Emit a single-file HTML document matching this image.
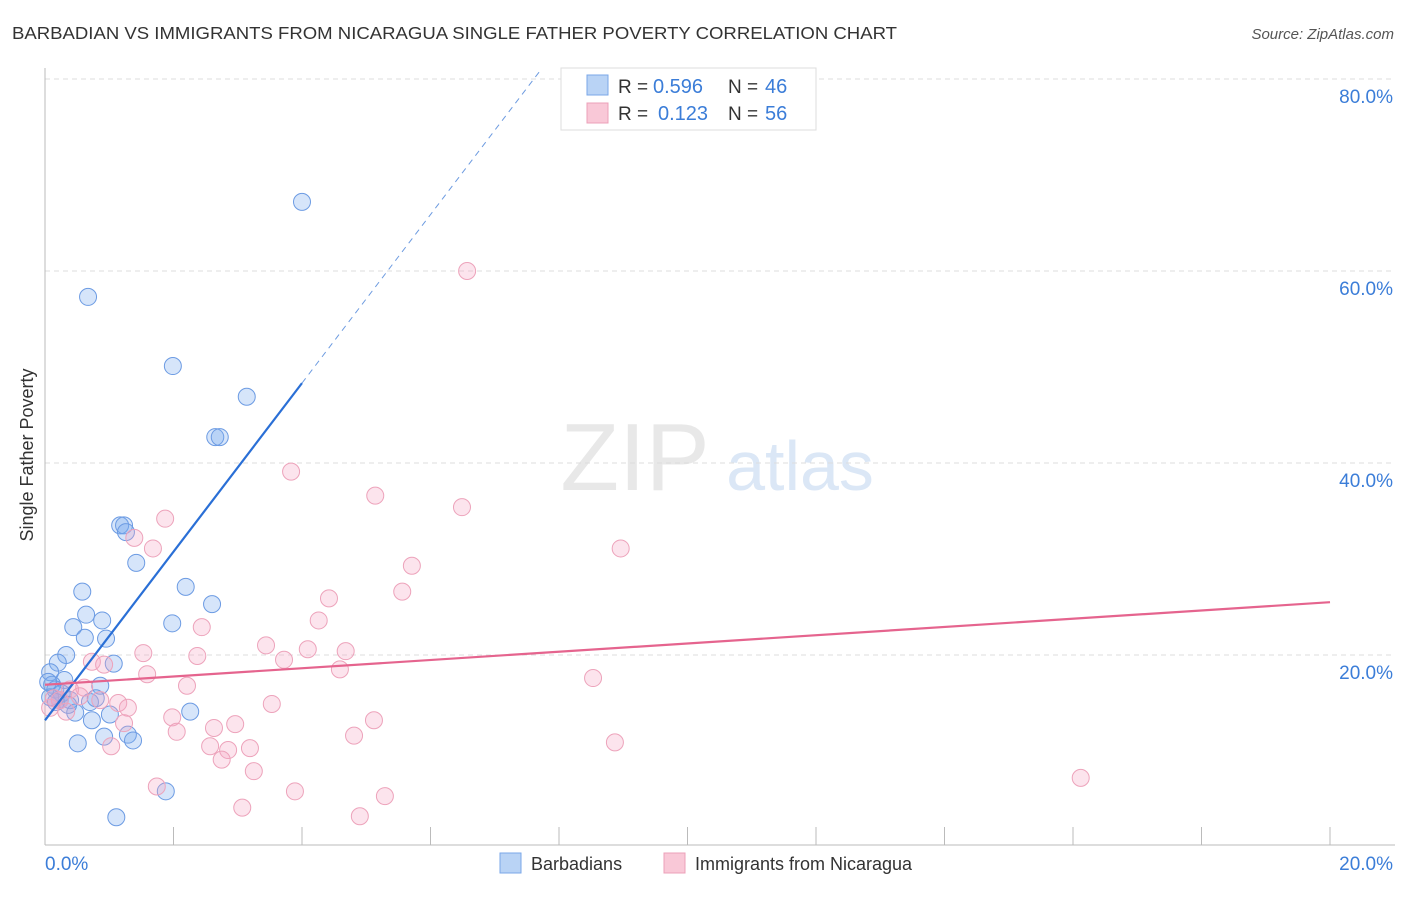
<!DOCTYPE html>
<html><head><meta charset="utf-8"><style>
body{margin:0;background:#fff;font-family:"Liberation Sans",sans-serif}
svg text{font-family:"Liberation Sans",sans-serif}
</style></head><body>
<svg width="1406" height="892">
<text x="12" y="39" font-size="17.5" fill="#333" textLength="885" lengthAdjust="spacingAndGlyphs">BARBADIAN VS IMMIGRANTS FROM NICARAGUA SINGLE FATHER POVERTY CORRELATION CHART</text>
<text x="1394" y="39" font-size="15" fill="#555" text-anchor="end" font-style="italic">Source: ZipAtlas.com</text>
<text x="-455" y="33" transform="rotate(-90)" font-size="18" fill="#333" text-anchor="middle">Single Father Poverty</text>
<g><text x="635" y="490" font-size="96" fill="#e8e8e8" font-family="Liberation Serif" text-anchor="middle">ZIP</text><text x="800" y="490" font-size="70" fill="#dbe7f6" text-anchor="middle">atlas</text></g>
<g id="grid"></g><g id="axes"></g><g id="pts"></g><g id="lines"></g>
<g>
<rect x="561" y="68" width="255" height="62" fill="#fff" stroke="#ddd"/>
<rect x="587" y="75" width="21" height="20" fill="#b9d3f5" stroke="#7aa7e8"/>
<rect x="587" y="103" width="21" height="20" fill="#f9c8d7" stroke="#eca0b8"/>
<text x="618" y="93" font-size="19" fill="#333">R =</text><text x="653" y="93" font-size="20" fill="#3b7dd8">0.596</text>
<text x="728" y="93" font-size="19" fill="#333">N =</text><text x="765" y="93" font-size="20" fill="#3b7dd8">46</text>
<text x="618" y="120" font-size="19" fill="#333">R =</text><text x="658" y="120" font-size="20" fill="#3b7dd8">0.123</text>
<text x="728" y="120" font-size="19" fill="#333">N =</text><text x="765" y="120" font-size="20" fill="#3b7dd8">56</text>
</g>
<g>
<rect x="500" y="853" width="21" height="20" fill="#b9d3f5" stroke="#7aa7e8"/>
<text x="531" y="870" font-size="18" fill="#333">Barbadians</text>
<rect x="664" y="853" width="21" height="20" fill="#f9c8d7" stroke="#eca0b8"/>
<text x="695" y="870" font-size="18" fill="#333">Immigrants from Nicaragua</text>
</g>
</svg>
<script>
const yTicks=[20,40,60,80];
const xTickLabels=["0.0%","20.0%"];
const blueX=[4.00,0.67,1.99,3.14,2.65,2.72,1.17,1.23,1.26,1.42,0.58,2.19,2.60,0.64,0.89,1.98,0.44,0.62,0.95,0.33,0.20,1.07,0.08,0.30,0.11,0.86,0.16,0.26,0.39,0.70,0.79,0.08,0.47,1.01,0.73,2.26,0.51,0.92,1.29,1.37,1.88,1.11,0.23,0.05,0.17,0.36];
const blueY=[67.2,57.3,50.1,46.9,42.7,42.7,33.5,33.5,32.8,29.6,26.6,27.1,25.3,24.2,23.6,23.3,22.9,21.8,21.7,20.0,19.2,19.1,18.2,17.4,16.9,16.8,16.4,16.0,15.3,15.1,15.5,15.6,14.0,13.8,13.2,14.1,10.8,11.5,11.7,11.1,5.8,3.1,15.3,17.2,15.1,14.8];
const pinkX=[6.57,3.83,5.14,6.49,1.87,1.39,1.68,8.96,5.71,5.56,4.42,2.44,4.26,3.44,4.09,4.68,1.53,0.73,0.92,2.37,3.72,1.59,4.59,2.21,0.61,8.53,0.23,1.14,1.29,3.53,1.98,1.23,2.96,2.05,2.63,5.12,2.57,2.85,3.19,4.81,8.87,1.03,2.75,3.25,16.12,1.74,3.89,3.07,5.29,4.90,0.08,0.39,0.54,0.14,0.86,0.33];
const pinkY=[60.0,39.1,36.6,35.4,34.2,32.2,31.1,31.1,29.3,26.6,25.9,22.9,23.6,21.0,20.6,20.4,20.2,19.3,19.0,19.9,19.5,18.0,18.5,16.8,16.6,17.6,15.3,15.0,14.5,14.9,13.5,12.9,12.8,12.0,12.4,13.2,10.5,10.1,10.3,11.6,10.9,10.5,9.1,7.9,7.2,6.3,5.8,4.1,5.3,3.2,14.5,16.4,15.7,15.5,15.3,14.1];
const blueTrend=[13.2,8.78]; // intercept, slope
const pinkTrend=[16.9,0.43];
const X=v=>45+v*64.25, Y=v=>847-v*9.6;
const NS="http://www.w3.org/2000/svg";
function mk(t,a,p){const e=document.createElementNS(NS,t);for(const k in a)e.setAttribute(k,a[k]);document.getElementById(p).appendChild(e);return e;}
yTicks.forEach(v=>{
 const l=mk('line',{x1:45,x2:1395,y1:Y(v),y2:Y(v),stroke:'#ddd','stroke-dasharray':'5,4'},'grid');
 
 
 const t=mk('text',{x:1393,y:Y(v)+24,'font-size':19,fill:'#3b7dd8','text-anchor':'end'},'grid');
 t.textContent=v.toFixed(1)+'%';
 
 
});
const ax=mk('line',{x1:45,x2:45,y1:68,y2:845,stroke:'#bbb'},'axes');


const bx=mk('line',{x1:45,x2:1395,y1:845,y2:845,stroke:'#bbb'},'axes');


for(let i=0;i<=20;i+=2){
 const tk=mk('line',{x1:X(i),x2:X(i),y1:827,y2:845,stroke:'#bbb'},'axes');
 
 
}
[[0,'start',45],[20,'end',1393]].forEach((d,i)=>{
 const t=mk('text',{x:d[2],y:870,'font-size':19,fill:'#3b7dd8','text-anchor':d[1]},'axes');
 t.textContent=xTickLabels[i];
 
 
});
blueX.forEach((x,i)=>{
 const c=mk('circle',{cx:X(x),cy:Y(blueY[i]),r:8.5,fill:'rgba(120,168,238,0.3)',stroke:'#6c9be3','stroke-width':1},'pts');
 
 
});
pinkX.forEach((x,i)=>{
 const c=mk('circle',{cx:X(x),cy:Y(pinkY[i]),r:8.5,fill:'rgba(245,165,195,0.3)',stroke:'#eda3bb','stroke-width':1},'pts');
 
 
});
const bt=v=>blueTrend[0]+blueTrend[1]*v;
const l1=mk('line',{x1:X(0),y1:Y(bt(0)),x2:X(4),y2:Y(bt(4)),stroke:'#2a6fd6','stroke-width':2.2},'lines');


const xe=(81-blueTrend[0])/blueTrend[1];
const l2=mk('line',{x1:X(4),y1:Y(bt(4)),x2:X(xe),y2:Y(bt(xe)),stroke:'#6d9be0','stroke-width':1,'stroke-dasharray':'6,5'},'lines');


const pt=v=>pinkTrend[0]+pinkTrend[1]*v;
const l3=mk('line',{x1:X(0),y1:Y(pt(0)),x2:X(20),y2:Y(pt(20)),stroke:'#e5648e','stroke-width':2.2},'lines');


</script>
</body></html>
